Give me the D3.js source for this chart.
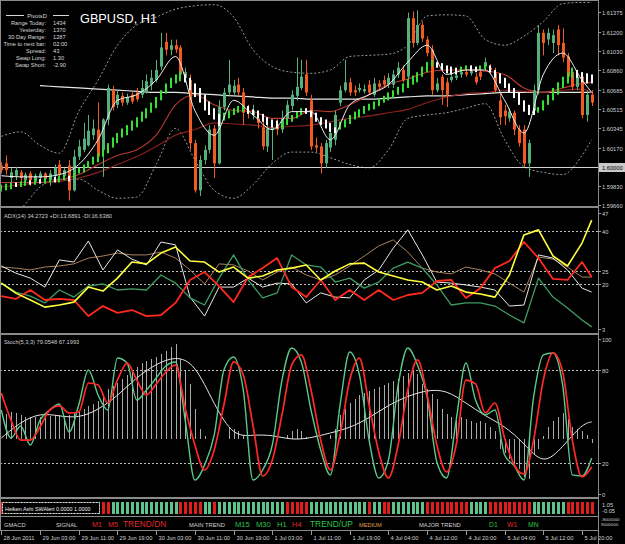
<!DOCTYPE html>
<html lang="en">
<head>
  <meta charset="UTF-8">
  <title>GBPUSD, H1</title>
  <script src="https://cdnjs.cloudflare.com/ajax/libs/d3/7.8.5/d3.min.js"></script>
  <style>
      body { margin: 0; background: #000; }
      svg { display: block; font-family: "Liberation Sans", Arial, sans-serif; }
  </style>
</head>
<body>
<div id="chart"></div>
<script>
  // ---- candles (one per H1 bar, 28 Jun 19:00 .. 5 Jul 22:00) ----
  const openP = [
    1.6001, 1.6003, 1.5990, 1.5992, 1.5995, 1.5988, 1.5994, 1.5987, 1.5990, 1.5994,
    1.5988, 1.5992, 1.6002, 1.5992, 1.6001, 1.5979, 1.6009, 1.6015, 1.6019, 1.6028,
    1.6033, 1.6015, 1.6042, 1.6068, 1.6055, 1.6063, 1.6057, 1.6064, 1.6066, 1.6064,
    1.6066, 1.6073, 1.6077, 1.6089, 1.6111, 1.6104, 1.6108, 1.6106, 1.6079, 1.6077,
    1.6021, 1.5979, 1.6006, 1.6015, 1.6034, 1.6003, 1.6053, 1.6066, 1.6066, 1.6073,
    1.6066, 1.6050, 1.6046, 1.6043, 1.6035, 1.6018, 1.6033, 1.6037, 1.6033, 1.6043,
    1.6054, 1.6063, 1.6070, 1.6082, 1.6059, 1.6019, 1.6018, 1.6003, 1.6017, 1.6024,
    1.6057, 1.6068, 1.6075, 1.6068, 1.6068, 1.6067, 1.6073, 1.6064, 1.6074, 1.6077,
    1.6073, 1.6073, 1.6082, 1.6086, 1.6080, 1.6132, 1.6110, 1.6126, 1.6113, 1.6104,
    1.6068, 1.6080, 1.6075, 1.6077, 1.6079, 1.6082, 1.6084, 1.6083, 1.6080, 1.6084,
    1.6089, 1.6088, 1.6083, 1.6059, 1.6050, 1.6043, 1.6048, 1.6033, 1.6033, 1.6003,
    1.6050, 1.6068, 1.6119, 1.6113, 1.6110, 1.6122, 1.6110, 1.6098, 1.6084, 1.6071,
    1.6080, 1.6046, 1.6064];
  const closeP = [
    1.5997, 1.5997, 1.5995, 1.5997, 1.5990, 1.5993, 1.5988, 1.5992, 1.5994, 1.5989,
    1.5994, 1.5999, 1.5993, 1.5997, 1.5979, 1.6009, 1.6018, 1.6025, 1.6032, 1.6034,
    1.6009, 1.6042, 1.6070, 1.6053, 1.6064, 1.6057, 1.6062, 1.6058, 1.6060, 1.6070,
    1.6076, 1.6079, 1.6086, 1.6106, 1.6104, 1.6108, 1.6104, 1.6082, 1.6084, 1.6021,
    1.5979, 1.6006, 1.6015, 1.6033, 1.6003, 1.6053, 1.6066, 1.6073, 1.6072, 1.6066,
    1.6048, 1.6049, 1.6050, 1.6039, 1.6018, 1.6034, 1.6035, 1.6033, 1.6043, 1.6055,
    1.6064, 1.6071, 1.6080, 1.6066, 1.6018, 1.6017, 1.6003, 1.6021, 1.6030, 1.6046,
    1.6068, 1.6075, 1.6066, 1.6066, 1.6070, 1.6069, 1.6066, 1.6074, 1.6071, 1.6073,
    1.6079, 1.6082, 1.6088, 1.6077, 1.6132, 1.6110, 1.6126, 1.6114, 1.6101, 1.6068,
    1.6074, 1.6068, 1.6064, 1.6080, 1.6081, 1.6084, 1.6082, 1.6085, 1.6075, 1.6080,
    1.6093, 1.6086, 1.6068, 1.6044, 1.6045, 1.6049, 1.6033, 1.6021, 1.6003, 1.6021,
    1.6068, 1.6119, 1.6110, 1.6119, 1.6117, 1.6108, 1.6097, 1.6080, 1.6071, 1.6080,
    1.6046, 1.6064, 1.6057];
  const highP = [
    1.6004, 1.6010, 1.5999, 1.6000, 1.5997, 1.5995, 1.5996, 1.5994, 1.5996, 1.5995,
    1.5997, 1.6002, 1.6006, 1.5999, 1.6006, 1.6015, 1.6024, 1.6039, 1.6046, 1.6042,
    1.6057, 1.6043, 1.6073, 1.6072, 1.6068, 1.6066, 1.6065, 1.6066, 1.6070, 1.6077,
    1.6082, 1.6086, 1.6095, 1.6119, 1.6119, 1.6113, 1.6113, 1.6108, 1.6088, 1.6082,
    1.6024, 1.6010, 1.6019, 1.6037, 1.6037, 1.6059, 1.6070, 1.6095, 1.6077, 1.6079,
    1.6070, 1.6055, 1.6055, 1.6049, 1.6042, 1.6037, 1.6039, 1.6042, 1.6050, 1.6059,
    1.6068, 1.6097, 1.6095, 1.6095, 1.6064, 1.6026, 1.6021, 1.6024, 1.6034, 1.6050,
    1.6072, 1.6095, 1.6079, 1.6072, 1.6074, 1.6073, 1.6077, 1.6079, 1.6077, 1.6081,
    1.6083, 1.6086, 1.6093, 1.6090, 1.6137, 1.6138, 1.6139, 1.6129, 1.6116, 1.6108,
    1.6079, 1.6082, 1.6079, 1.6084, 1.6084, 1.6088, 1.6088, 1.6090, 1.6083, 1.6088,
    1.6097, 1.6091, 1.6088, 1.6066, 1.6055, 1.6052, 1.6050, 1.6037, 1.6037, 1.6024,
    1.6073, 1.6126, 1.6122, 1.6123, 1.6122, 1.6126, 1.6123, 1.6101, 1.6088, 1.6084,
    1.6084, 1.6068, 1.6068];
  const lowP = [
    1.5994, 1.5993, 1.5986, 1.5988, 1.5985, 1.5985, 1.5983, 1.5985, 1.5986, 1.5986,
    1.5983, 1.5990, 1.5990, 1.5988, 1.5970, 1.5978, 1.6006, 1.6013, 1.6018, 1.6024,
    1.6006, 1.5991, 1.6037, 1.6050, 1.6052, 1.6054, 1.6055, 1.6056, 1.6058, 1.6061,
    1.6065, 1.6068, 1.6075, 1.6086, 1.6099, 1.6099, 1.6101, 1.6079, 1.6075, 1.6015,
    1.5977, 1.5974, 1.6002, 1.6012, 1.5990, 1.6002, 1.6050, 1.6063, 1.6064, 1.6063,
    1.6037, 1.6043, 1.6042, 1.6034, 1.6015, 1.6013, 1.6006, 1.6028, 1.6030, 1.6039,
    1.6050, 1.6059, 1.6068, 1.6063, 1.6015, 1.6013, 1.5994, 1.5999, 1.6013, 1.6019,
    1.6054, 1.6066, 1.6063, 1.6063, 1.6066, 1.6065, 1.6064, 1.6062, 1.6068, 1.6070,
    1.6070, 1.6070, 1.6079, 1.6075, 1.6077, 1.6106, 1.6108, 1.6111, 1.6098, 1.6064,
    1.6066, 1.6055, 1.6053, 1.6075, 1.6077, 1.6079, 1.6080, 1.6081, 1.6073, 1.6077,
    1.6086, 1.6082, 1.6066, 1.6037, 1.6037, 1.6040, 1.6028, 1.6018, 1.6000, 1.5991,
    1.6046, 1.6064, 1.6099, 1.6108, 1.6101, 1.6099, 1.6093, 1.6077, 1.6068, 1.6068,
    1.6043, 1.6040, 1.6054];

  // ---- smoothed heiken ashi bars drawn on the price chart ----
  const haOpen = [
    1.5978, 1.5979, 1.5980, 1.5986, 1.5982, 1.5983, 1.5988, 1.5984, 1.5989, 1.5985,
    1.5986, 1.5991, 1.5986, 1.5988, 1.5992, 1.5990, 1.5994, 1.5995, 1.5999, 1.6002,
    1.6004, 1.6009, 1.6012, 1.6017, 1.6021, 1.6026, 1.6028, 1.6032, 1.6035, 1.6040,
    1.6043, 1.6048, 1.6052, 1.6059, 1.6065, 1.6070, 1.6074, 1.6076, 1.6082, 1.6079,
    1.6074, 1.6070, 1.6064, 1.6058, 1.6052, 1.6047, 1.6041, 1.6043, 1.6046, 1.6048,
    1.6049, 1.6054, 1.6051, 1.6050, 1.6047, 1.6044, 1.6042, 1.6041, 1.6034, 1.6037,
    1.6040, 1.6043, 1.6046, 1.6052, 1.6050, 1.6048, 1.6044, 1.6042, 1.6039, 1.6035,
    1.6033, 1.6035, 1.6038, 1.6042, 1.6044, 1.6047, 1.6050, 1.6051, 1.6054, 1.6057,
    1.6059, 1.6061, 1.6064, 1.6066, 1.6070, 1.6073, 1.6075, 1.6080, 1.6084, 1.6089,
    1.6093, 1.6092, 1.6090, 1.6089, 1.6088, 1.6084, 1.6086, 1.6090, 1.6089, 1.6086,
    1.6087, 1.6090, 1.6086, 1.6083, 1.6079, 1.6074, 1.6070, 1.6066, 1.6059, 1.6055,
    1.6052, 1.6048, 1.6050, 1.6055, 1.6059, 1.6064, 1.6070, 1.6074, 1.6079, 1.6086,
    1.6084, 1.6083, 1.6082];
  const haClose = [
    1.5984, 1.5985, 1.5986, 1.5982, 1.5987, 1.5988, 1.5984, 1.5989, 1.5985, 1.5990,
    1.5991, 1.5986, 1.5992, 1.5993, 1.5987, 1.5995, 1.5999, 1.6002, 1.6005, 1.6009,
    1.6012, 1.6017, 1.6021, 1.6026, 1.6030, 1.6034, 1.6037, 1.6041, 1.6044, 1.6049,
    1.6052, 1.6057, 1.6062, 1.6068, 1.6074, 1.6079, 1.6082, 1.6085, 1.6075, 1.6068,
    1.6062, 1.6057, 1.6050, 1.6046, 1.6042, 1.6036, 1.6048, 1.6050, 1.6052, 1.6054,
    1.6055, 1.6047, 1.6046, 1.6043, 1.6040, 1.6037, 1.6035, 1.6034, 1.6041, 1.6043,
    1.6046, 1.6049, 1.6052, 1.6047, 1.6044, 1.6040, 1.6037, 1.6034, 1.6031, 1.6030,
    1.6040, 1.6042, 1.6046, 1.6049, 1.6051, 1.6054, 1.6056, 1.6058, 1.6061, 1.6063,
    1.6066, 1.6068, 1.6071, 1.6074, 1.6078, 1.6081, 1.6084, 1.6089, 1.6093, 1.6095,
    1.6088, 1.6086, 1.6083, 1.6082, 1.6082, 1.6089, 1.6090, 1.6085, 1.6084, 1.6090,
    1.6091, 1.6084, 1.6079, 1.6074, 1.6070, 1.6066, 1.6061, 1.6055, 1.6049, 1.6046,
    1.6046, 1.6053, 1.6059, 1.6064, 1.6070, 1.6075, 1.6080, 1.6084, 1.6088, 1.6079,
    1.6075, 1.6074, 1.6074];

  // ---- price-chart lines, read every 4th bar ----
  const bbUpper = [1.6027, 1.6031, 1.6019, 1.6012, 1.6049, 1.6077, 1.6108, 1.6126, 1.6133, 1.6140,
    1.6143, 1.6144, 1.6133, 1.6104, 1.6089, 1.6084, 1.6083, 1.6086, 1.6098, 1.6099,
    1.6100, 1.6108, 1.6134, 1.6135, 1.6134, 1.6113, 1.6108, 1.6116, 1.6129, 1.6145,
    1.6146, 1.6146];
  const bbLower = [1.5957, 1.5963, 1.5982, 1.5989, 1.5989, 1.5979, 1.5972, 1.5973, 1.6002, 1.6034,
    1.6006, 1.5979, 1.5972, 1.5984, 1.6003, 1.6013, 1.6013, 1.6008, 1.6002, 1.5999,
    1.6015, 1.6043, 1.6046, 1.6048, 1.6052, 1.6056, 1.6024, 1.6000, 1.5995, 1.5993,
    1.6010, 1.6024];
  const maFast = [1.5992, 1.5991, 1.5991, 1.5993, 1.6002, 1.6024, 1.6059, 1.6064, 1.6077, 1.6098,
    1.6050, 1.6028, 1.6059, 1.6046, 1.6033, 1.6049, 1.6049, 1.6024, 1.6055, 1.6064,
    1.6073, 1.6093, 1.6108, 1.6082, 1.6086, 1.6086, 1.6059, 1.6030, 1.6082, 1.6101,
    1.6077, 1.6066];
  const maMid = [1.5986, 1.5986, 1.5986, 1.5988, 1.5993, 1.6002, 1.6010, 1.6015, 1.6028, 1.6055,
    1.6064, 1.6055, 1.6050, 1.6049, 1.6043, 1.6043, 1.6050, 1.6049, 1.6055, 1.6064,
    1.6073, 1.6078, 1.6084, 1.6086, 1.6086, 1.6085, 1.6082, 1.6070, 1.6066, 1.6070,
    1.6074, 1.6075];
  const maSlow = [1.5982, 1.5984, 1.5986, 1.5987, 1.5990, 1.5995, 1.6002, 1.6009, 1.6018, 1.6028,
    1.6033, 1.6039, 1.6038, 1.6037, 1.6035, 1.6036, 1.6037, 1.6040, 1.6043, 1.6045,
    1.6048, 1.6051, 1.6057, 1.6062, 1.6065, 1.6066, 1.6068, 1.6067, 1.6066, 1.6068,
    1.6069, 1.6066];
  const maLong = [null, null, 1.6072, 1.6071, 1.6070, 1.6069, 1.6068, 1.6067, 1.6066, 1.6066,
    1.6065, 1.6064, 1.6063, 1.6062, 1.6061, 1.6061, 1.6060, 1.6060, 1.6060, 1.6060,
    1.6061, 1.6062, 1.6063, 1.6063, 1.6064, 1.6065, 1.6066, 1.6066, 1.6066, 1.6066,
    1.6066, 1.6066];
  const levelLine = 1.6000;

  // ---- ADX panel, read every 3rd bar ----
  const adxYellow = [20.4, 16.6, 14.0, 11.3, 12.1, 13.2, 18.9, 17.4, 22.3, 28.4, 27.7, 31.8, 34.1, 28.8,
    28.4, 24.6, 26.5, 22.3, 23.1, 25.4, 26.1, 27.3, 21.6, 25.0, 27.7, 28.0, 24.6, 23.1,
    21.6, 20.8, 17.8, 19.3, 17.0, 16.3, 15.1, 23.5, 38.7, 40.6, 30.7, 26.9, 35.6, 44.3];
  const adxRed = [15.5, 14.4, 17.8, 14.0, 14.4, 14.0, 7.9, 11.7, 9.1, 10.2, 7.9, 8.3, 12.9, 21.6,
    24.6, 19.3, 13.2, 22.7, 26.1, 29.9, 18.9, 15.1, 21.6, 14.0, 17.8, 14.0, 17.8, 14.0,
    15.9, 16.7, 21.2, 21.6, 14.8, 18.5, 26.1, 28.8, 36.0, 29.9, 22.0, 21.6, 28.4, 22.7];
  const adxGreen = [20.4, 17.0, 15.5, 12.9, 17.8, 15.1, 19.3, 20.1, 17.8, 18.2, 17.8, 23.5, 20.4, 14.8,
    12.1, 22.3, 31.1, 21.6, 14.8, 16.7, 31.1, 27.3, 26.5, 20.8, 22.3, 18.5, 20.8, 26.1,
    28.4, 26.1, 19.7, 12.1, 12.9, 12.9, 11.7, 8.3, 5.3, 22.3, 15.1, 11.0, 6.4, 3.8];
  const adxWhite = [26.9, 24.2, 22.3, 18.9, 29.2, 28.4, 36.4, 25.4, 33.0, 29.5, 27.3, 36.0, 34.9, 15.1,
    7.9, 18.9, 18.9, 22.3, 18.9, 20.4, 20.1, 12.9, 16.7, 15.1, 14.8, 21.6, 25.4, 33.7,
    40.6, 31.1, 20.8, 20.4, 19.7, 18.9, 17.8, 11.7, 12.1, 31.1, 29.9, 25.4, 18.5, 17.0];
  const adxTan = [26.5, 26.1, 25.4, 26.5, 26.9, 27.7, 29.9, 30.7, 31.8, 31.1, 31.1, 32.2, 29.9, 25.4,
    20.1, 27.7, 27.3, 25.0, 21.6, 24.6, 26.5, 23.5, 21.6, 23.5, 26.9, 30.7, 34.5, 36.8,
    32.2, 26.1, 24.6, 23.9, 26.5, 25.4, 23.9, 20.4, 17.0, 30.3, 29.5, 26.5, 22.7, 22.7];
  const adxTicks = [47, 40, 25, 20, 3];
  const adxLevels = [40, 25, 20];

  // ---- stochastic panel, read every 2nd bar ----
  const stochMain = [54.2, 36.1, 43.9, 31.6, 47.7, 54.2, 58.1, 40.0, 57.4, 80.0, 63.9, 54.2, 87.7, 84.5,
    60.6, 67.1, 74.8, 82.6, 85.2, 47.7, 9.0, 18.7, 38.1, 80.0, 88.4, 67.1, 9.0, 15.5,
    31.6, 73.5, 94.2, 85.2, 54.2, 28.4, 12.3, 57.4, 91.6, 76.8, 34.8, 10.3, 21.9, 70.3,
    94.2, 83.2, 62.6, 20.6, 10.3, 47.7, 84.5, 60.6, 51.0, 54.2, 25.2, 18.1, 9.0, 62.6,
    89.7, 91.0, 70.3, 12.3, 11.6, 23.2];
  const stochSignal = [65.2, 47.7, 34.8, 34.8, 43.2, 54.2, 56.8, 52.3, 52.9, 71.6, 70.3, 58.7, 73.5, 84.5,
    73.5, 63.9, 71.0, 78.7, 83.2, 55.5, 31.6, 15.5, 28.4, 57.4, 85.2, 76.8, 44.5, 11.6,
    21.9, 51.0, 83.2, 89.7, 67.1, 34.8, 15.5, 38.1, 73.5, 87.7, 57.4, 27.1, 10.3, 31.6,
    67.1, 86.5, 63.9, 31.6, 14.2, 31.6, 73.5, 71.0, 52.3, 58.7, 36.1, 18.7, 12.9, 34.8,
    73.5, 91.0, 78.7, 34.8, 11.0, 17.4];
  // slow white average, every 4th bar
  const stochSlow = [36.1, 46.5, 52.3, 50.3, 49.0, 54.2, 63.2, 75.5, 83.9, 89.0, 84.5, 57.4, 36.8, 38.1,
    38.1, 34.8, 36.1, 39.4, 42.6, 49.0, 57.4, 63.2, 67.1, 67.1, 58.7, 50.3, 43.9, 32.9,
    18.1, 30.3, 45.2, 46.5];
  // grey histogram, one value per bar
  const stochHist = [
    0, 25, 27, 26, 24, 22, 22, 22, 22, 22, 23, 24, 24, 22, 24, 26, 28, 30, 33, 35,
    38, 45, 50, 53, 56, 60, 64, 67, 72, 76, 78, 80, 82, 85, 88, 92, 95, 80, 68, 55,
    30, 10, 3, 0, 0, 0, 0, 12, 10, 8, 4, 0, 0, 0, 0, 0, 0, 0, 0, 4,
    8, 10, 8, 2, 0, 0, 0, 0, 4, 10, 24, 30, 36, 40, 44, 46, 48, 50, 52, 54,
    56, 58, 60, 63, 66, 68, 65, 55, 50, 45, 40, 30, 25, 22, 24, 22, 20, 18, 16, 18,
    16, 12, 8, -10, -14, -20, -25, -30, -38, -40, -15, -10, 3, 12, 18, 22, 26, 20, 12, 10,
    8, 4, -4];
  const stochTicks = [100, 80, 20, 0];
  const stochLevels = [80, 20];

  // ---- heiken ashi alert strip: 1 up, -1 down ----
  const haTrend = [
    -1, -1, 1, 1, 1, 1, 1, 1, 1, 1, 1, 1, 1, 1, 1, 1, 1, 1, 1, 1,
    1, -1, -1, 1, 1, 1, 1, 1, 1, 1, 1, 1, 1, 1, 1, 1, 1, -1, -1, -1,
    -1, -1, 1, 1, -1, 1, 1, 1, 1, 1, 1, 1, 1, 1, 1, 1, 1, 1, 1, -1,
    -1, -1, -1, -1, 1, 1, 1, 1, 1, 1, 1, 1, 1, 1, 1, 1, -1, 1, 1, -1,
    -1, 1, 1, 1, 1, 1, 1, 1, -1, -1, -1, -1, -1, -1, -1, -1, -1, 1, 1, 1,
    1, -1, -1, -1, -1, -1, -1, -1, -1, -1, 1, 1, 1, 1, 1, 1, 1, -1, -1, -1,
    -1, -1, -1];

  const priceTicks = [1.61375, 1.61200, 1.61030, 1.60860, 1.60685, 1.60515, 1.60345, 1.60170, 1.60000, 1.59830, 1.59660];
  const timeLabels = ["28 Jun 2011", "29 Jun 03:00", "29 Jun 11:00", "29 Jun 19:00", "30 Jun 03:00", "30 Jun 11:00",
    "30 Jun 19:00", "1 Jul 03:00", "1 Jul 11:00", "1 Jul 19:00", "4 Jul 04:00", "4 Jul 12:00",
    "4 Jul 20:00", "5 Jul 04:00", "5 Jul 12:00", "5 Jul 20:00"];
  const infoRows = [["Range Today:", "1434"], ["Yesterday:", "1370"], ["30 Day Range:", "1287"],
    ["Time to next bar:", "02:00"], ["Spread:", "43"], ["Swap Long:", "1.30"], ["Swap Short:", "-2.90"]];
  const gmacdRow = [
    ["GMACD", 4, "#d0d0d0", 5.8], ["SIGNAL", 56, "#d0d0d0", 5.8],
    ["M1", 92, "#e02828", 7.2], ["M5", 108, "#e02828", 7.2], ["TREND/DN", 123, "#e02828", 8.4],
    ["MAIN TREND", 189, "#d0d0d0", 5.8],
    ["M15", 235, "#2ec24a", 7.6], ["M30", 256, "#2ec24a", 7.6], ["H1", 277, "#2ec24a", 7.6],
    ["H4", 292, "#e02828", 7.6], ["TREND/UP", 310, "#2ec24a", 8.4],
    ["MEDIUM", 359, "#e0a050", 5.6], ["MAJOR TREND", 419, "#d0d0d0", 5.8],
    ["D1", 489, "#2ec24a", 6.8], ["W1", 507, "#e02828", 6.8], ["MN", 528, "#2ec24a", 6.8]];

  // ---- layout ----
  const width = 625, height = 544;
  const axisX = 598;
  const small = 5.7;
  const bull = "#55b07c", bear = "#f25a24";

  const bars = d3.range(openP.length);
  const lineIdx = [...d3.range(0, 121, 4), 122];
  const adxIdx = [...d3.range(0, 121, 3), 122];
  const stochIdx = d3.range(0, 123, 2);

  const x = d3.scaleLinear([0, 122], [1.3, 591.7]);
  const yPrice = d3.scaleLinear([1.5966, 1.61375], [205, 12]);
  const yAdx = d3.scaleLinear([3, 47], [329, 213]);
  const yStoch = d3.scaleLinear([0, 100], [494, 339]);
  const yHist = d3.scaleLinear([0, 100], [439, 339]);
  const px = i => Math.round(x(i)) + 0.5;

  const svg = d3.select("#chart").append("svg")
      .attr("width", width).attr("height", height)
      .style("background", "#000");

  const defs = svg.append("defs");
  function panel (id, y0, y1) {
    defs.append("clipPath").attr("id", id)
        .append("rect").attr("x", 0).attr("y", y0).attr("width", axisX).attr("height", y1 - y0);
    return svg.append("g").attr("clip-path", `url(#${id})`);
  }
  const main = panel("clip-main", 1, 206);
  const adx = panel("clip-adx", 208, 333);
  const stoch = panel("clip-stoch", 335, 497);
  const strip = panel("clip-strip", 499, 515);

  function seriesLine (g, idx, values, yScale, color, w, curve, dash) {
    const pts = idx.map((i, k) => [i, values[k]]);
    g.append("path")
        .datum(pts)
        .attr("fill", "none")
        .attr("stroke", color)
        .attr("stroke-width", w)
        .attr("stroke-dasharray", dash || null)
        .attr("stroke-linejoin", "round")
        .attr("d", d3.line()
            .defined(d => d[1] != null)
            .x(d => x(d[0]))
            .y(d => yScale(d[1]))
            .curve(curve || d3.curveLinear));
  }

  // ---- main price panel ----
  seriesLine(main, lineIdx, bbUpper, yPrice, "#9a9a9a", 1, d3.curveMonotoneX, "2,2");
  seriesLine(main, lineIdx, bbLower, yPrice, "#9a9a9a", 1, d3.curveMonotoneX, "2,2");

  main.append("line")
      .attr("x1", 0).attr("x2", axisX)
      .attr("y1", Math.round(yPrice(levelLine)) + 0.5).attr("y2", Math.round(yPrice(levelLine)) + 0.5)
      .attr("stroke", "#d4d4d4");

  seriesLine(main, lineIdx, maLong, yPrice, "#e6e6e6", 1.2, d3.curveMonotoneX);
  seriesLine(main, lineIdx, maSlow, yPrice, "#8e2020", 1.1, d3.curveMonotoneX);
  seriesLine(main, lineIdx, maMid, yPrice, "#b83a30", 1.1, d3.curveMonotoneX);

  const candles = main.append("g");
  const up = i => closeP[i] >= openP[i];
  candles.selectAll("line").data(bars).join("line")
      .attr("x1", px).attr("x2", px)
      .attr("y1", i => yPrice(highP[i])).attr("y2", i => yPrice(lowP[i]))
      .attr("stroke", i => up(i) ? bull : bear);
  candles.selectAll("rect").data(bars).join("rect")
      .attr("x", i => Math.round(x(i)) - 1)
      .attr("width", 3)
      .attr("y", i => yPrice(Math.max(openP[i], closeP[i])))
      .attr("height", i => Math.max(1, Math.abs(yPrice(openP[i]) - yPrice(closeP[i]))))
      .attr("fill", i => up(i) ? bull : bear);

  main.append("g").selectAll("rect").data(bars).join("rect")
      .attr("x", i => Math.round(x(i)) - 1)
      .attr("width", 2)
      .attr("y", i => yPrice(Math.max(haOpen[i], haClose[i])))
      .attr("height", i => Math.abs(yPrice(haOpen[i]) - yPrice(haClose[i])))
      .attr("fill", i => haClose[i] >= haOpen[i] ? "#33e033" : "#ffffff");

  seriesLine(main, lineIdx, maFast, yPrice, "#f0f0f0", 1, d3.curveMonotoneX);

  // info block and title
  const info = svg.append("g").attr("font-size", small).attr("fill", "#d8d8d8");
  info.append("line").attr("x1", 6).attr("x2", 24).attr("y1", 15.5).attr("y2", 15.5).attr("stroke", "#d8d8d8");
  info.append("line").attr("x1", 53).attr("x2", 69).attr("y1", 15.5).attr("y2", 15.5).attr("stroke", "#d8d8d8");
  info.append("text").attr("x", 37).attr("y", 17.5).attr("text-anchor", "middle").text("PivotsD");
  infoRows.forEach(([label, value], k) => {
    const yy = 24.5 + k * 7.15;
    info.append("text").attr("x", 46).attr("y", yy).attr("text-anchor", "end").text(label);
    info.append("text").attr("x", 53).attr("y", yy).text(value);
  });
  svg.append("text")
      .attr("x", 80).attr("y", 23)
      .attr("font-size", 13.5)
      .attr("fill", "#ffffff")
      .attr("textLength", 77).attr("lengthAdjust", "spacingAndGlyphs")
      .text("GBPUSD, H1");

  // ---- ADX panel ----
  adx.append("g").selectAll("line").data(adxLevels).join("line")
      .attr("x1", 0).attr("x2", axisX)
      .attr("y1", d => Math.round(yAdx(d)) + 0.5).attr("y2", d => Math.round(yAdx(d)) + 0.5)
      .attr("stroke", "#bdbdbd").attr("stroke-dasharray", "2,2");
  seriesLine(adx, adxIdx, adxTan, yAdx, "#a8825c", 1);
  seriesLine(adx, adxIdx, adxWhite, yAdx, "#e8e8e8", 1);
  seriesLine(adx, adxIdx, adxGreen, yAdx, "#3f9c62", 1.3);
  seriesLine(adx, adxIdx, adxRed, yAdx, "#ff2a1e", 1.8);
  seriesLine(adx, adxIdx, adxYellow, yAdx, "#ffff3c", 1.6);
  svg.append("text").attr("x", 4).attr("y", 217.5).attr("font-size", small).attr("fill", "#d0d0d0")
      .text("ADX(14) 34.2723 +DI:13.6891 -DI:16.6380");

  // ---- stochastic panel ----
  stoch.append("g").selectAll("line").data(stochLevels).join("line")
      .attr("x1", 0).attr("x2", axisX)
      .attr("y1", d => Math.round(yStoch(d)) + 0.5).attr("y2", d => Math.round(yStoch(d)) + 0.5)
      .attr("stroke", "#bdbdbd").attr("stroke-dasharray", "2,2");
  stoch.append("g").selectAll("line").data(bars.filter(i => stochHist[i] !== 0)).join("line")
      .attr("x1", px).attr("x2", px)
      .attr("y1", yHist(0)).attr("y2", i => yHist(stochHist[i]))
      .attr("stroke", "#a9a9a9");
  seriesLine(stoch, lineIdx, stochSlow, yStoch, "#e4e4e4", 1, d3.curveBasis);
  seriesLine(stoch, stochIdx, stochMain, yStoch, "#5cc98c", 1.4, d3.curveMonotoneX);
  seriesLine(stoch, stochIdx, stochSignal, yStoch, "#ff2a24", 1.7, d3.curveMonotoneX);
  svg.append("text").attr("x", 4).attr("y", 343.5).attr("font-size", small).attr("fill", "#d0d0d0")
      .text("Stoch(5,3,3) 79.0548 67.1993");

  // ---- heiken ashi alert strip ----
  strip.append("g").selectAll("rect").data(bars).join("rect")
      .attr("x", i => Math.round(x(i)) - 1)
      .attr("width", 3)
      .attr("y", 502).attr("height", 12)
      .attr("fill", i => haTrend[i] > 0 ? "#5cc48a" : "#e01c1c");
  svg.append("rect")
      .attr("x", 2.5).attr("y", 502.5).attr("width", 97).attr("height", 11)
      .attr("fill", "#000").attr("stroke", "#e0e0e0").attr("stroke-dasharray", "2,1");
  svg.append("text").attr("x", 5).attr("y", 510.5).attr("font-size", 5.4).attr("fill", "#f0f0f0")
      .text("Heiken Ashi SWAlert 0.0000 1.0000");

  // ---- GMACD text row ----
  svg.append("g").selectAll("text").data(gmacdRow).join("text")
      .attr("x", d => d[1]).attr("y", 526.5)
      .attr("font-size", d => d[3])
      .attr("fill", d => d[2])
      .text(d => d[0]);

  // ---- separators and frame ----
  const frame = svg.append("g").attr("stroke", "#8a8a8a").attr("fill", "none");
  frame.append("rect").attr("x", 0.5).attr("y", 0.5).attr("width", axisX).attr("height", 530);
  [207, 334, 498].forEach(yy => frame.append("line")
      .attr("x1", 0).attr("x2", axisX).attr("y1", yy).attr("y2", yy).attr("stroke-width", 2));
  frame.append("line").attr("x1", 0).attr("x2", axisX).attr("y1", 516.5).attr("y2", 516.5);

  // ---- right axis ----
  const right = svg.append("g").attr("font-size", small).attr("fill", "#cfcfcf");
  function rightTicks (values, yScale, fmt) {
    values.forEach(v => {
      const yy = Math.round(yScale(v)) + 0.5;
      right.append("line").attr("x1", axisX).attr("x2", axisX + 3).attr("y1", yy).attr("y2", yy).attr("stroke", "#9a9a9a");
      right.append("text").attr("x", axisX + 4).attr("y", yy + 2).text(fmt(v));
    });
  }
  rightTicks(priceTicks.filter(v => v !== levelLine), yPrice, d3.format(".5f"));
  const yLevel = Math.round(yPrice(levelLine)) + 0.5;
  right.append("rect").attr("x", axisX + 1).attr("y", yLevel - 4.5).attr("width", 26).attr("height", 9).attr("fill", "#c8c8c8");
  right.append("text").attr("x", axisX + 4).attr("y", yLevel + 2).attr("fill", "#000").text(d3.format(".5f")(levelLine));
  rightTicks(adxTicks, yAdx, d3.format("d"));
  rightTicks(stochTicks, yStoch, d3.format("d"));
  right.append("text").attr("x", axisX + 4).attr("y", 507).text("1.05");
  right.append("text").attr("x", axisX + 4).attr("y", 513).text("-0.05");
  right.append("text").attr("x", axisX + 3).attr("y", 521).attr("font-size", 4.4).text("-9000000");
  right.append("text").attr("x", axisX + 3).attr("y", 525.5).attr("font-size", 4.4).text("9000000");

  // ---- time axis ----
  const timeIdx = d3.range(0, 121, 8);
  const tAxis = svg.append("g");
  timeIdx.forEach((i, k) => {
    tAxis.append("line").attr("x1", px(i)).attr("x2", px(i)).attr("y1", 531).attr("y2", 535).attr("stroke", "#9a9a9a");
    tAxis.append("text").attr("x", px(i) + 2).attr("y", 539.5)
        .attr("font-size", small).attr("fill", "#d0d0d0").text(timeLabels[k]);
  });
  svg.append("line").attr("x1", axisX + 0.5).attr("x2", axisX + 0.5).attr("y1", 0).attr("y2", 544).attr("stroke", "#8a8a8a");
</script>
</body>
</html>
